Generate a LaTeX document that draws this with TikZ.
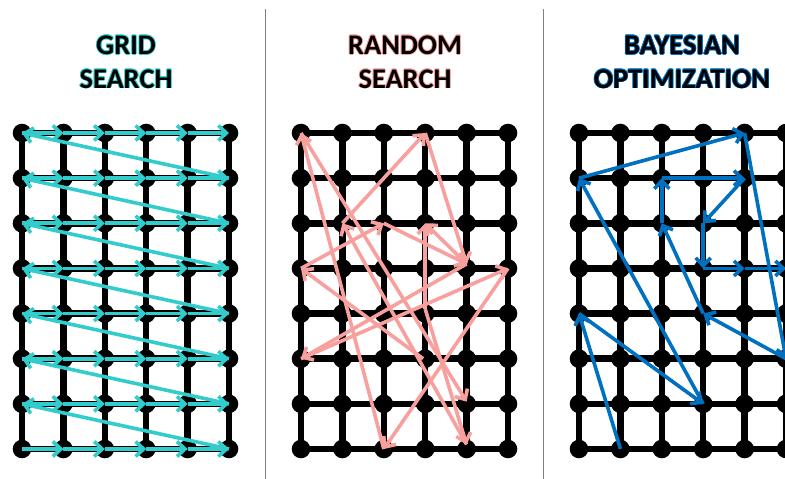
\documentclass[tikz,border=0pt]{standalone}
\usepackage{fontspec}
\setmainfont{Carlito}
\usetikzlibrary{arrows.meta,positioning}

\definecolor{gridcyan}{RGB}{51,204,204}
\definecolor{randpink}{RGB}{248,160,158}
\definecolor{bayesblue}{RGB}{0,112,192}

\tikzset{
  mesh/.style={line width=6.5bp, black},
  move/.style={line width=3.6bp, -{Straight Barb[length=8bp,width=15bp]}},
  title/.style={font=\bfseries\fontsize{28.5}{34}\selectfont, align=center, inner sep=0pt},
  rule/.style={gray, line width=1bp},
}

% title with a thin coloured halo behind the black letters
\newcommand{\glowtitle}[4]{%
  \foreach \gx/\gy in {-.8/0,.8/0,0/-.8,0/.8,-.6/-.6,.6/.6,-.6/.6,.6/-.6}
    \node[title, text=#3, xshift=\gx bp, yshift=\gy bp] at (#2) {#4};
  \node[title] (#1) at (#2) {#4};
}

\begin{document}
\begin{tikzpicture}[x=1bp, y=1bp]
\useasboundingbox (0,0) rectangle (785,479);
\clip (0,0) rectangle (785,479);

% headings
\glowtitle{gridtitle}{126,417}{gridcyan}{GRID\\SEARCH}
\glowtitle{randtitle}{405,417}{randpink}{RANDOM\\SEARCH}
\glowtitle{bayestitle}{682,417}{bayesblue}{BAYESIAN\\OPTIMIZATION}

% separators
\draw[rule] (265,470) -- (265,0);
\draw[rule] (543,470) -- (543,0);

% the three meshes of 6 x 8 points
\foreach \px in {22,301,579}{
  \begin{scope}[shift={(\px,30)}, x=41.4bp, y=45.14bp]
    \draw[mesh, step=1] (0,0) grid (5,7);
    \foreach \c in {0,...,5}
      \foreach \r in {0,...,7}
        \fill (\c,\r) circle[radius=9.3bp];
  \end{scope}
}

% grid search: row by row, bottom to top
\begin{scope}[shift={(22,30)}, x=41.4bp, y=45.14bp]
  \foreach \c in {0,...,5}
    \foreach \r in {0,...,7}
      \coordinate (g-\c-\r) at (\c,\r);
\end{scope}
\foreach \r in {0,...,7}
  \foreach \c [count=\n] in {0,...,4}
    \draw[move, gridcyan] (g-\c-\r) -- (g-\n-\r);
\foreach \r [count=\s] in {0,...,6}
  \draw[move, gridcyan] (g-5-\r) -- (g-0-\s);

% random search
\begin{scope}[shift={(301,30)}, x=41.4bp, y=45.14bp]
  \coordinate (ra) at (0,7);
  \coordinate (rb) at (3,7);
  \coordinate (rc) at (1,5);
  \coordinate (rd) at (2,5);
  \coordinate (re) at (3,5);
  \coordinate (rf) at (0,4);
  \coordinate (rg) at (4,4.1);
  \coordinate (rh) at (5,4);
  \coordinate (ri) at (3,3.1);
  \coordinate (rj) at (0,2);
  \coordinate (rk) at (2.95,2);
  \coordinate (rl) at (4,1.05);
  \coordinate (rm) at (2,0);
  \coordinate (rn) at (4,0.1);
\end{scope}
\foreach \s/\t in {rk/rf, rf/rd, rd/rg, rg/rj, rj/rh, rh/rm, rm/ra, ra/rl,
                   rn/rc, rc/rb, rb/rg, rg/re, ri/re, ri/rn}
  \draw[move, randpink] (\s) -- (\t);

% bayesian optimization: one path through the points it tries
\begin{scope}[shift={(579,30)}, x=41.4bp, y=45.14bp]
  \foreach \c/\r [count=\k from 0] in {1/0,0/3,3/1,0/6,4/7,5/2,3/3,2/5,
                                       2/6,4/6,3/5,3/4,4/4,5/4}
    \coordinate (b\k) at (\c,\r);
\end{scope}
\foreach \k [count=\n] in {0,...,12}
  \draw[move, bayesblue] (b\k) -- (b\n);

\end{tikzpicture}
\end{document}
